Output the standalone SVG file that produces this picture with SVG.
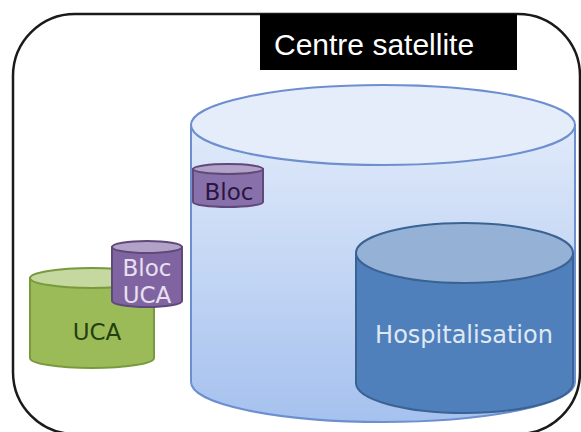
<svg xmlns="http://www.w3.org/2000/svg" width="581" height="432" viewBox="0 0 581 432">
  <defs>
    <linearGradient id="bigBody" x1="0" y1="125" x2="0" y2="423" gradientUnits="userSpaceOnUse">
      <stop offset="0" stop-color="#e0eafa"/>
      <stop offset="1" stop-color="#a5c1ee"/>
    </linearGradient>
    <style>
      .lbl { font-family: "DejaVu Sans", "Liberation Sans", sans-serif; text-anchor: middle; }
      .big-body { fill: url(#bigBody); stroke: #6d8fd0; stroke-width: 2; }
      .big-top { fill: #e5edfa; stroke: #6d8fd0; stroke-width: 2; }
      .hosp-body { fill: #4f80bc; stroke: #3a6394; stroke-width: 2; }
      .hosp-top { fill: #95b1d6; stroke: #3a6394; stroke-width: 2; }
      .green-body { fill: #9bbb59; stroke: #789a3c; stroke-width: 2; }
      .green-top { fill: #c4d89f; stroke: #789a3c; stroke-width: 2; }
      .purple-body { fill: #8064a2; stroke: #5f497a; stroke-width: 2; }
      .purple-top { fill: #b3a2c8; stroke: #5f497a; stroke-width: 2; }
    </style>
  </defs>

  <rect width="581" height="432" fill="#ffffff"/>

  <g id="frame">
    <rect x="13" y="14" width="567" height="420" rx="62" ry="62" fill="none" stroke="#1a1a1a" stroke-width="2.5"/>
  </g>

  <g id="title">
    <rect x="260" y="14" width="257" height="56" fill="#000000"/>
    <text x="274" y="55" font-family="Liberation Sans, Arial, sans-serif" font-size="30" fill="#ffffff">Centre satellite</text>
  </g>

  <g id="centre">
    <path class="big-body" d="M191,125 L191,382 A192,40 0 0 0 575,382 L575,125 Z"/>
    <ellipse class="big-top" cx="383" cy="125" rx="192" ry="40"/>
  </g>

  <g id="hospitalisation">
    <path class="hosp-body" d="M356,253 L356,383 A108.5,30 0 0 0 573,383 L573,253 Z"/>
    <ellipse class="hosp-top" cx="464.5" cy="253" rx="108.5" ry="30"/>
    <text class="lbl" x="464" y="343" font-size="24" fill="#dfe8f4">Hospitalisation</text>
  </g>

  <g id="bloc">
    <path class="purple-body" d="M193,169 L193,202 A35,5 0 0 0 263,202 L263,169 Z" fill-opacity="0.9"/>
    <ellipse class="purple-top" cx="228" cy="169" rx="35" ry="5"/>
    <text class="lbl" x="229" y="200" font-size="23" fill="#2a1640">Bloc</text>
  </g>

  <g id="uca">
    <path class="green-body" d="M30,278 L30,358 A62,10 0 0 0 154,358 L154,278 Z"/>
    <ellipse class="green-top" cx="92" cy="278" rx="62" ry="10"/>
    <text class="lbl" x="97" y="340" font-size="23" fill="#24400f">UCA</text>
  </g>

  <g id="bloc-uca">
    <path class="purple-body" d="M112,247 L112,301 A35,6 0 0 0 182,301 L182,247 Z"/>
    <ellipse class="purple-top" cx="147" cy="247" rx="35" ry="6"/>
    <text class="lbl" x="147" y="276" font-size="23" fill="#e8e0f0">Bloc</text>
    <text class="lbl" x="147" y="303" font-size="23" fill="#e8e0f0">UCA</text>
  </g>

  <g id="connectors"/>
</svg>
